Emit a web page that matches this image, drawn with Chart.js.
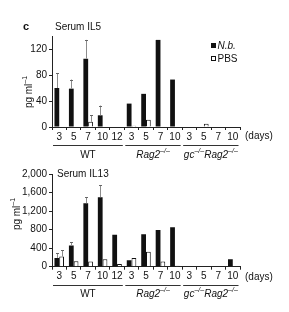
<!DOCTYPE html>
<html><head><meta charset="utf-8">
<script src="https://cdn.jsdelivr.net/npm/chart.js@4"></script>
<style>
html,body{margin:0;padding:0;background:#fff;width:289px;height:312px;overflow:hidden}
.box{position:absolute;left:0;width:289px}
</style></head><body>
<div class="box" style="top:0;height:160px"><canvas id="c1"></canvas></div>
<div class="box" style="top:160px;height:152px"><canvas id="c2"></canvas></div>
<script>
// ---- data ----
const categories = ['3','5','7','10','12','3','5','7','10','3','5','7','10'];
const groupNames = ['WT','Rag2','gcRag2'];
const groupStart = [0,5,9];
const groupEnd   = [4,8,12];
const seriesNames = ['N.b.','PBS'];

const il5Nb     = [60,59,105,18,0,36,51,134,73,0,0,0,0];
const il5NbErr  = [83,73,134,33,null,null,null,null,null,null,null,null,null];
const il5Pbs    = [0,0,8,0,0,2,11,0,0,0,5,0,0];
const il5PbsErr = [null,null,18,null,null,null,null,null,null,null,null,null,null];
const il5Ticks  = [0,40,80,120];

const il13Nb     = [190,460,1370,1500,690,140,700,790,850,0,0,0,160];
const il13NbErr  = [290,530,1500,1760,null,null,null,null,null,null,null,null,null];
const il13Pbs    = [220,120,110,160,60,190,320,110,20,0,0,0,0];
const il13PbsErr = [360,null,null,null,null,null,null,null,null,null,null,null,null];
const il13Ticks  = [0,400,800,1200,1600,2000];

const FONT = "'Liberation Sans', Arial, Helvetica, sans-serif";
const INK = '#111';

function drawSegs(ctx, segs, x, y, align, size){
  // segs: [{t, it, sup}]
  const parts = segs.map(s=>{
    const fs = s.sup ? Math.round(size*0.7) : size;
    const f = (s.it?'italic ':'') + (s.b?'bold ':'') + fs + 'px ' + FONT;
    ctx.font = f;
    return {t:s.t, f, w:ctx.measureText(s.t).width, dy: s.sup ? -size*0.35 : 0};
  });
  const total = parts.reduce((a,p)=>a+p.w,0);
  let cx = align==='center' ? x - total/2 : x;
  ctx.textBaseline = 'middle';
  ctx.textAlign = 'left';
  for(const p of parts){ ctx.font = p.f; ctx.fillText(p.t, cx, y + p.dy); cx += p.w; }
}

function makeExtras(cfg){
  return {
    id:'extras',
    afterDatasetsDraw(chart){
      const ctx = chart.ctx, xs = chart.scales.x, ys = chart.scales.y;
      ctx.save();
      // error bars
      const errs = [cfg.nbErr, cfg.pbsErr];
      for(let d=0; d<2; d++){
        const meta = chart.getDatasetMeta(d);
        errs[d].forEach((e,i)=>{
          if(e==null) return;
          const bar = meta.data[i];
          const x = Math.round(bar.x)+0.5;
          const yTop = ys.getPixelForValue(e);
          ctx.strokeStyle = '#8c8c8c'; ctx.lineWidth = 1;
          ctx.beginPath(); ctx.moveTo(x, bar.y); ctx.lineTo(x, yTop); ctx.stroke();
          ctx.strokeStyle = '#666';
          ctx.beginPath(); ctx.moveTo(x-1.5, Math.round(yTop)+0.5); ctx.lineTo(x+1.5, Math.round(yTop)+0.5); ctx.stroke();
        });
      }
      ctx.restore();
    },
    afterDraw(chart){
      const ctx = chart.ctx, xs = chart.scales.x, area = chart.chartArea;
      ctx.save();
      ctx.fillStyle = INK;
      const cw = (area.right - area.left)/categories.length;
      // group lines & labels
      ctx.strokeStyle = '#333'; ctx.lineWidth = 1.2;
      const labels = [
        [{t:'WT'}],
        [{t:'Rag2',it:true},{t:'\u2013/\u2013',sup:true,it:true}],
        [{t:'gc',it:true},{t:'\u2013/\u2013',sup:true,it:true},{t:'Rag2',it:true},{t:'\u2013/\u2013',sup:true,it:true}]
      ];
      groupNames.forEach((g,k)=>{
        const x0 = area.left + groupStart[k]*cw + 1;
        const x1 = area.left + (groupEnd[k]+1)*cw - 1.5;
        ctx.beginPath(); ctx.moveTo(x0, cfg.lineY); ctx.lineTo(x1, cfg.lineY); ctx.stroke();
        drawSegs(ctx, labels[k], (x0+x1)/2, cfg.groupY, 'center', 10);
      });
      // (days)
      drawSegs(ctx, [{t:'(days)'}], cfg.daysX, cfg.daysY, 'left', 10);
      // title
      drawSegs(ctx, [{t:cfg.title}], cfg.titleX, cfg.titleY, 'left', 10);
      if(cfg.letter) drawSegs(ctx, [{t:cfg.letter,b:true}], 23, cfg.titleY, 'left', 11);
      // y axis title
      ctx.save();
      ctx.translate(cfg.yTitleX, cfg.yTitleY);
      ctx.rotate(-Math.PI/2);
      drawSegs(ctx, [{t:'pg ml'},{t:'\u20131',sup:true}], 0, 0, 'center', 10);
      ctx.restore();
      // legend
      if(cfg.legend){
        ctx.fillStyle = INK;
        ctx.fillRect(211, 43, 5, 5);
        ctx.strokeStyle = INK; ctx.lineWidth = 1;
        ctx.strokeRect(211.5, 56.5, 4, 4);
        drawSegs(ctx, [{t:'N.b.',it:true}], 217.5, 46, 'left', 10);
        drawSegs(ctx, [{t:'PBS'}], 217.5, 59, 'left', 10);
      }
      ctx.restore();
    }
  };
}

function makeChart(id, nb, pbs, yMax, step, tickList, extH, padTop, fmt, cfg){
  return new Chart(document.getElementById(id), {
    type:'bar',
    data:{
      labels: categories,
      datasets:[
        {label:seriesNames[0], data:nb, backgroundColor:INK, borderColor:INK, borderWidth:0,
         categoryPercentage:0.66, barPercentage:1.0},
        {label:seriesNames[1], data:pbs, backgroundColor:'#fff', borderColor:INK, borderWidth:1,
         categoryPercentage:0.66, barPercentage:1.0}
      ]
    },
    options:{
      responsive:true, maintainAspectRatio:false, animation:false, devicePixelRatio:1,
      layout:{padding:{left:0, right:49, top:padTop, bottom:0}, autoPadding:false},
      plugins:{legend:{display:false}, tooltip:{enabled:false}},
      scales:{
        x:{
          grid:{offset:true, drawOnChartArea:false, drawTicks:true, tickLength:3, color:'#222'},
          border:{color:'#222', width:1},
          ticks:{color:INK, font:{family:FONT, size:10}, padding:1, maxRotation:0, autoSkip:false},
          afterFit(s){ s.height = extH; }
        },
        y:{
          min:0, max:yMax,
          grid:{drawOnChartArea:false, drawTicks:true, tickLength:3, color:'#222'},
          border:{color:'#222', width:1},
          ticks:{stepSize:step, color:INK, font:{family:FONT, size:10}, padding:2,
            callback:(v)=> tickList.includes(v) ? fmt(v) : ''},
          afterFit(s){ s.width = 52; }
        }
      }
    },
    plugins:[makeExtras(cfg)]
  });
}

makeChart('c1', il5Nb, il5Pbs, 140, 20, il5Ticks, 33, 36, v=>String(v), {
  nbErr:il5NbErr, pbsErr:il5PbsErr, lineY:145.5, groupY:155, daysX:245, daysY:136.5,
  title:'Serum IL5', titleX:55, titleY:27, letter:'c', yTitleX:29, yTitleY:92, legend:true
});
makeChart('c2', il13Nb, il13Pbs, 2000, 200, il13Ticks, 45.3, 14, v=>v.toLocaleString('en-US'), {
  nbErr:il13NbErr, pbsErr:il13PbsErr, lineY:125.5, groupY:134, daysX:245, daysY:117,
  title:'Serum IL13', titleX:57, titleY:14, letter:null, yTitleX:17, yTitleY:54, legend:false
});
</script>
</body></html>
